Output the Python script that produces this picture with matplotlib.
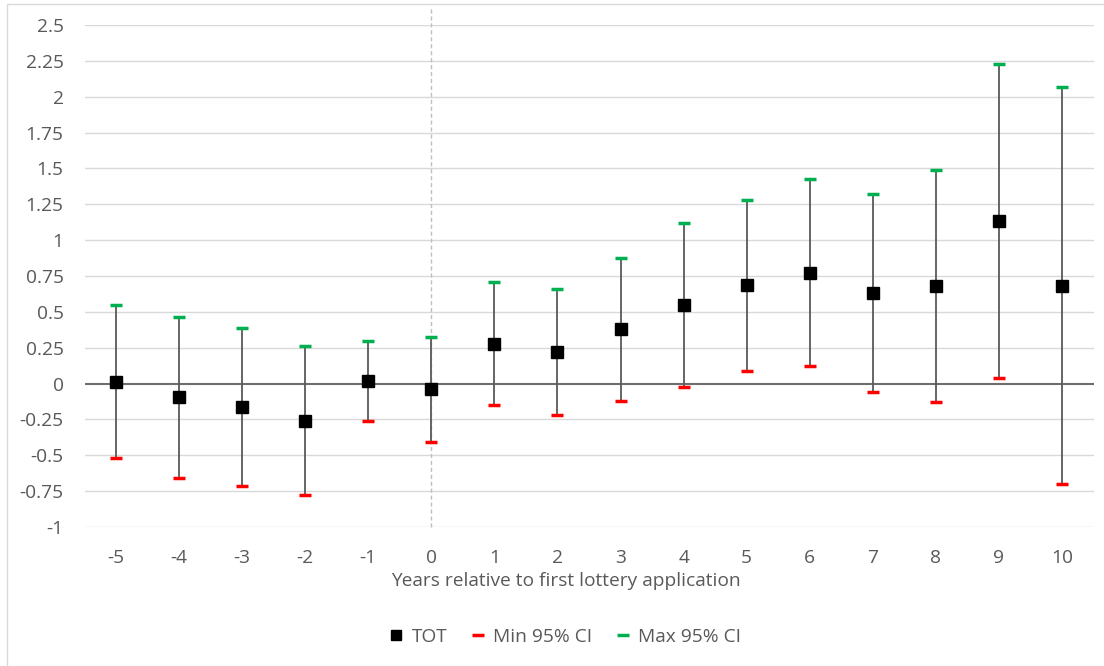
import matplotlib
matplotlib.use("Agg")
import matplotlib.pyplot as plt
from matplotlib.lines import Line2D
from matplotlib.patches import Rectangle

plt.rcParams['font.family'] = ['Open Sans', 'DejaVu Sans']

years = [-5, -4, -3, -2, -1, 0, 1, 2, 3, 4, 5, 6, 7, 8, 9, 10]
tot = [0.013, -0.096, -0.163, -0.263, 0.018, -0.038, 0.278, 0.222, 0.379, 0.548,
       0.688, 0.773, 0.634, 0.681, 1.136, 0.683]
ci_min = [-0.52, -0.658, -0.716, -0.78, -0.263, -0.407, -0.149, -0.219, -0.119, -0.024,
          0.09, 0.123, -0.056, -0.13, 0.039, -0.698]
ci_max = [0.55, 0.467, 0.39, 0.26, 0.297, 0.325, 0.708, 0.662, 0.876, 1.118,
          1.28, 1.425, 1.324, 1.492, 2.229, 2.066]
yticks = [-1, -0.75, -0.5, -0.25, 0, 0.25, 0.5, 0.75, 1, 1.25, 1.5, 1.75, 2, 2.25, 2.5]
ytick_labels = ['-1', '-0.75', '-0.5', '-0.25', '0', '0.25', '0.5', '0.75', '1',
                '1.25', '1.5', '1.75', '2', '2.25', '2.5']

W, H = 1104, 666
fig = plt.figure(figsize=(W / 100, H / 100), dpi=100)
TXT = '#595959'
FS = 13.8

# chart border
fig.patches.append(Rectangle((6.5 / W, -0.1), 1.2, (1 - 3.5 / H) + 0.1,
                             transform=fig.transFigure, fill=False,
                             edgecolor='#d9d9d9', linewidth=1.0))

ax = fig.add_axes([84.5 / W, 1 - 527 / H, (1093.5 - 84.5) / W, (527 - 25) / H])
x = list(range(len(years)))

ax.set_ylim(-1, 2.5)
ax.set_xlim(-0.5, len(years) - 0.5)
ax.set_yticks(yticks)
ax.set_yticklabels(ytick_labels)
for y in yticks:
    if y != 0:
        ax.axhline(y, color='#d9d9d9', linewidth=1.0, zorder=0)
ax.axhline(0, color='#6e6e6e', linewidth=1.5, zorder=1)

for s in ax.spines.values():
    s.set_visible(False)

# vertical dashed line at year 0
i0 = years.index(0)
ax.plot([i0, i0], [-1, 2.625], color='#bfbfbf', linestyle=(0, (3, 2)),
        linewidth=1.0, clip_on=False, zorder=1)

# high-low lines
ax.vlines(x, ci_min, ci_max, color='#595959', linewidth=1.3, zorder=2)
ax.plot(x, ci_min, linestyle='none', marker='_', markersize=8, markeredgewidth=2.5,
        color='#ff0000', zorder=3, label='Min 95% CI')
ax.plot(x, ci_max, linestyle='none', marker='_', markersize=8, markeredgewidth=2.5,
        color='#00b050', zorder=3, label='Max 95% CI')
ax.plot(x, tot, linestyle='none', marker='s', markersize=8.5, color='black',
        zorder=4, label='TOT')

ax.set_xticks(x)
ax.set_xticklabels([str(v) for v in years])
ax.tick_params(axis='both', length=0, labelsize=FS, colors=TXT)
ax.tick_params(axis='x', pad=16)
ax.tick_params(axis='y', pad=15)
fig.text(566 / W, 1 - 581 / H, 'Years relative to first lottery application',
         fontsize=FS, color=TXT, ha='center', va='center')

handles = [
    Line2D([], [], linestyle='none', marker='s', markersize=7, color='black'),
    Line2D([], [], linestyle='none', marker='_', markersize=8, markeredgewidth=2.5, color='#ff0000'),
    Line2D([], [], linestyle='none', marker='_', markersize=8, markeredgewidth=2.5, color='#00b050'),
]
fig.legend(handles, ['TOT', 'Min 95% CI', 'Max 95% CI'], loc='center',
           bbox_to_anchor=(565 / W, 1 - 637 / H), ncol=3, frameon=False,
           fontsize=FS, labelcolor=TXT, handlelength=0.8, handletextpad=0.4,
           columnspacing=1.2)

fig.savefig('out.png', dpi=100)
